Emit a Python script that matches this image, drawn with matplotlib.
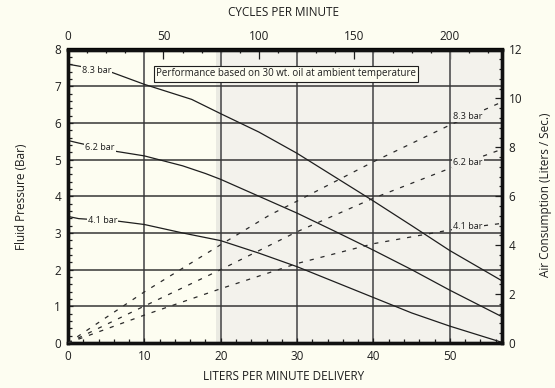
import matplotlib
matplotlib.use('Agg')
import matplotlib.pyplot as plt
from matplotlib.ticker import MultipleLocator, FixedLocator

plt.rcParams['font.family'] = ['Open Sans', 'DejaVu Sans']
plt.rcParams['lines.scale_dashes'] = False

# ---- data ----
# Fluid pressure curves (liters/min -> bar)
lpm_83 = [0, 1.35, 5.7, 10, 16.2, 20, 25, 30, 35, 40, 45, 50, 56.8]
bar_83 = [7.6, 7.55, 7.38, 7.05, 6.64, 6.25, 5.75, 5.17, 4.52, 3.87, 3.2, 2.52, 1.70]

lpm_62 = [0, 1.4, 6.4, 10, 15, 18, 20, 25, 30, 35, 40, 45, 50, 56.8]
bar_62 = [5.52, 5.45, 5.22, 5.1, 4.83, 4.62, 4.46, 4.0, 3.54, 3.04, 2.53, 2.0, 1.44, 0.72]

lpm_41 = [0, 1.4, 6.6, 10, 15, 20, 25, 30, 35, 40, 45, 50, 56.8]
bar_41 = [3.45, 3.39, 3.32, 3.23, 3.0, 2.79, 2.45, 2.08, 1.66, 1.24, 0.82, 0.46, 0.02]

# Air consumption curves (liters/min -> liters/sec)
air_lpm = [0, 10, 20, 26.4, 30, 40, 50, 56.8]
air_83 = [0, 2.09, 4.02, 5.23, 5.8, 7.41, 8.91, 9.85]
air_lpm2 = [0, 10, 20, 30, 40, 50, 56.8]
air_62 = [0, 1.51, 3.0, 4.55, 5.92, 7.14, 7.92]
air_41 = [0, 1.14, 2.22, 3.25, 4.06, 4.62, 4.89]

curve_labels = ['8.3 bar', '6.2 bar', '4.1 bar']
x_major = [0, 10, 20, 30, 40, 50]
cyc_major = [0, 50, 100, 150, 200]
left_ticks = [0, 1, 2, 3, 4, 5, 6, 7, 8]
right_ticks = [0, 2, 4, 6, 8, 10, 12]
note = 'Performance based on 30 wt. oil at ambient temperature'

BG = '#fdfdf1'
SHADE = '#f3f2ec'
INK = '#1e1e1e'

fig = plt.figure(figsize=(5.55, 3.88), dpi=100, facecolor=BG)
ax = fig.add_axes([68/555, 1-343/388, (501.7-68)/555, (343-49.5)/388])
ax.set_facecolor(BG)
XMAX = 56.8
ax.set_xlim(0, XMAX)
ax.set_ylim(0, 8)

ax.axvspan(19.35, XMAX, color=SHADE, zorder=0, lw=0)
ax.axvspan(19.35, 20, color='#eaeae2', zorder=0, lw=0)
for x in x_major[1:]:
    ax.axvline(x, color='#676767', lw=1.4, zorder=1)
for y in left_ticks[1:-1]:
    ax.axhline(y, color='#363636', lw=1.1, zorder=1)

for xs, ys in [(lpm_83, bar_83), (lpm_62, bar_62), (lpm_41, bar_41)]:
    ax.plot(xs, ys, color=INK, lw=0.9, zorder=3)

lab_kw = dict(fontsize=6.6, color=INK, ha='center', va='center', zorder=4,
              bbox=dict(boxstyle='square,pad=0.12', fc=BG, ec='none'))
ax.text(3.75, 7.42, curve_labels[0], **lab_kw)
ax.text(4.2, 5.33, curve_labels[1], **lab_kw)
ax.text(4.5, 3.34, curve_labels[2], **lab_kw)

ax.text(0.5 * (151.7 + 420.7) / 1 * 0 + (286 - 68) / (501.7 - 68) * XMAX, 7.34, note,
        fontsize=7.0, color=INK, ha='center', va='center', zorder=5,
        bbox=dict(boxstyle='square,pad=0.25', fc=BG, ec=INK, lw=0.8))

ax.xaxis.set_major_locator(FixedLocator(x_major))
ax.xaxis.set_minor_locator(MultipleLocator(2))
ax.yaxis.set_major_locator(FixedLocator(left_ticks))
ax.yaxis.set_minor_locator(MultipleLocator(0.2))
ax.tick_params(axis='both', which='both', direction='in', color=INK, width=0.9,
               labelsize=8.5, labelcolor=INK)
ax.tick_params(axis='both', which='major', length=3.5, pad=5)
ax.tick_params(axis='both', which='minor', length=3)
ax.tick_params(axis='x', top=False)
for s in ax.spines.values():
    s.set_linewidth(2.4)
    s.set_color('#111111')
    s.set_zorder(6)

# air consumption axis
ax2 = ax.twinx()
ax2.set_ylim(0, 12)
ax2.set_xlim(0, XMAX)
ds = (0, (3, 5))
for xs, ys in [(air_lpm, air_83), (air_lpm2, air_62), (air_lpm2, air_41)]:
    ax2.plot(xs, ys, color='#2a2a2a', lw=0.9, linestyle=ds, zorder=3)
rlab_kw = dict(fontsize=6.6, color=INK, ha='center', va='center', zorder=4,
               bbox=dict(boxstyle='square,pad=0.12', fc=SHADE, ec='none'))
ax2.text(52.4, 9.25, curve_labels[0], **rlab_kw)
ax2.text(52.4, 7.37, curve_labels[1], **rlab_kw)
ax2.text(52.4, 4.75, curve_labels[2], **rlab_kw)
ax2.yaxis.set_major_locator(FixedLocator(right_ticks))
ax2.yaxis.set_minor_locator(MultipleLocator(0.4))
ax2.tick_params(axis='y', which='both', direction='in', color=INK, width=0.9,
                labelsize=8.5, labelcolor=INK)
ax2.tick_params(axis='y', which='major', length=5, pad=5)
ax2.tick_params(axis='y', which='minor', length=2.5)
for s in ax2.spines.values():
    s.set_linewidth(2.4)
    s.set_color('#111111')

# cycles per minute axis
sec = ax.secondary_xaxis('top', functions=(lambda x: x * 4, lambda c: c / 4))
sec.xaxis.set_major_locator(FixedLocator(cyc_major))
sec.xaxis.set_minor_locator(MultipleLocator(10))
sec.tick_params(which='both', direction='in', color=INK, width=0.9,
                labelsize=8.5, labelcolor=INK)
sec.tick_params(which='major', length=7, pad=5)
sec.tick_params(which='minor', length=3)
sec.spines['top'].set_linewidth(2.4)

fig.text(284/555, 1-13/388, 'CYCLES PER MINUTE', fontsize=8.5, color=INK,
         ha='center', va='center')
fig.text(284/555, 1-377/388, 'LITERS PER MINUTE DELIVERY', fontsize=8.5, color=INK,
         ha='center', va='center')
fig.text(22/555, 1-197/388, 'Fluid Pressure (Bar)', fontsize=8.5, color=INK,
         ha='center', va='center', rotation=90)
fig.text(546/555, 1-195/388, 'Air Consumption (Liters / Sec.)', fontsize=8.5, color=INK,
         ha='center', va='center', rotation=90)

fig.savefig('out.png', dpi=100, facecolor=BG)
